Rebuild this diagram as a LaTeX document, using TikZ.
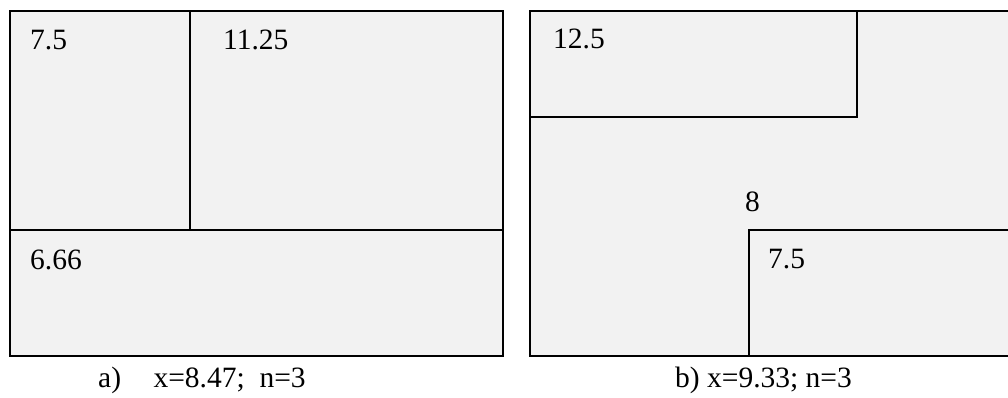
\documentclass[tikz,border=0pt]{standalone}
\usepackage{fontspec}
\setmainfont{Liberation Serif}
\definecolor{panelfill}{HTML}{F2F2F2}
\tikzset{
  panel/.style={draw=black, line width=2pt, fill=panelfill},
  lbl/.style={anchor=base west, inner sep=0pt, font=\fontsize{29.5}{34}\selectfont},
}
\begin{document}
\begin{tikzpicture}[x=1pt,y=-1pt]
\useasboundingbox (0,0) rectangle (1008,398);
\clip (0,0) rectangle (1008,398);
% panel a
\draw[panel] (10,11) rectangle (503,356);
\draw[line width=2pt] (190,11) -- (190,230);
\draw[line width=2pt] (10,230) -- (503,230);
\node[lbl] (a1) at (30,50) {7.5};
\node[lbl] (a2) at (223,50) {11.25};
\node[lbl] (a3) at (30,269) {6.66};
\node[lbl] (capa) at (98,387) {a)\hspace{1.1em}x=8.47;\hspace{0.5em}n=3};
% panel b
\draw[panel] (530,11) rectangle (1015,356);
\draw[panel] (530,11) rectangle (857,117);
\draw[panel] (749,230) rectangle (1015,356);
\node[lbl] (b1) at (553,49) {12.5};
\node[lbl] (b2) at (745,211) {8};
\node[lbl] (b3) at (768,268) {7.5};
\node[lbl] (capb) at (675,387) {b) x=9.33; n=3};
\end{tikzpicture}
\end{document}
